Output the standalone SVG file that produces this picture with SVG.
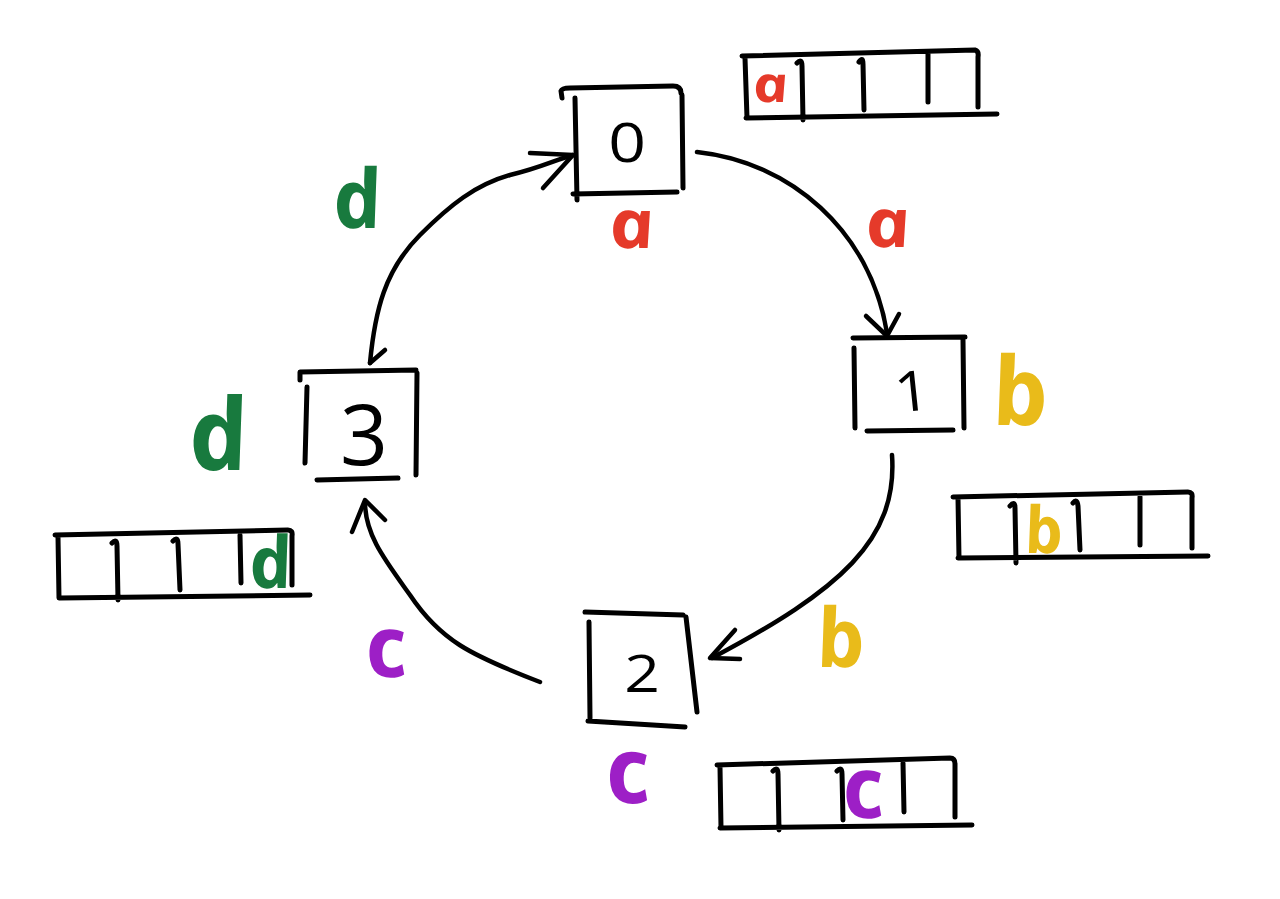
<svg xmlns="http://www.w3.org/2000/svg" width="1280" height="899" viewBox="0 0 1280 899">
<style>
.ln{fill:none;stroke:#000;stroke-width:5;stroke-linecap:round;stroke-linejoin:round}
.cn{fill:none;stroke:#000;stroke-width:4.5;stroke-linecap:round;stroke-linejoin:round}
.ltr{font-family:"Open Sans","DejaVu Sans",sans-serif;font-weight:700;font-style:italic;text-anchor:middle}
.dig{font-family:"Open Sans","DejaVu Sans",sans-serif;font-weight:500;text-anchor:middle;fill:#000}
.red{fill:#e53a2a}.yel{fill:#e9bb1a}.pur{fill:#9d1fc6}.grn{fill:#187a3e}
</style>
<rect width="1280" height="899" fill="#fff"/>

<g id="node0">
<path class="ln" d="M562,98 L561,91 Q562,88 570,88 L673,86 Q681,86 681,93 M682,95 L683,188 M575,98 L577,200 M573,194 L677,192"/>
<text class="dig" font-size="55" transform="translate(627,162) scale(1.2,1)">0</text>
<text class="ltr red" font-size="68" transform="translate(635,248) skewX(10) scale(1.12,1)">a</text>
</g>

<g id="node1">
<path class="ln" d="M853,338 L965,337 M854,348 L855,428 M963,340 L964,428 M867,431 L953,430"/>
<text class="dig" font-size="56" transform="translate(914,411) rotate(-6) scale(1.1,1)">1</text>
<text class="ltr yel" font-size="95" transform="translate(1025,425) skewX(10)">b</text>
</g>

<g id="node2">
<path class="ln" d="M585,612 L683,615 M589,622 L590,718 M686,617 L697,712 M588,721 L685,727"/>
<text class="dig" font-size="52" transform="translate(642,692) scale(1.2,1)">2</text>
<text class="ltr pur" font-size="92" transform="translate(632,803) skewX(10)">c</text>
</g>

<g id="node3">
<path class="ln" d="M300,380 L300,372 L416,370 M307,387 L305,463 M417,373 L416,475 M317,480 L398,478"/>
<text class="dig" font-size="84" transform="translate(364,465)">3</text>
<text class="ltr grn" font-size="100" transform="translate(223,470) skewX(10)">d</text>
</g>

<g id="array0">
<path class="ln" d="M742,56 L975,50 Q979,51 978,57 L978,107 M745,58 L747,118 M746,118 L997,114 M797,63 Q802,58 802,66 L803,120 M859,62 Q863,56 863,64 L864,110 M928,53 L928,102"/>
<text class="ltr red" font-size="50" transform="translate(773,102) skewX(10) scale(1.2,1)">a</text>
</g>

<g id="array1">
<path class="ln" d="M953,497 L1188,492 Q1193,492 1192,498 L1192,548 M958,498 L959,558 M958,558 L1208,556 M1010,506 Q1015,500 1015,508 L1016,563 M1073,503 Q1077,498 1078,506 L1080,550 M1140,497 L1140,545"/>
<text class="ltr yel" font-size="65" transform="translate(1047,553) skewX(10)">b</text>
</g>

<g id="array2">
<path class="ln" d="M717,765 L950,758 Q955,758 955,764 L955,817 M720,767 L721,828 M720,828 L972,825 M773,771 Q778,766 778,774 L779,830 M837,771 Q842,766 842,774 L843,820 M903,763 L904,812"/>
<text class="ltr pur" font-size="86" transform="translate(867,818) skewX(10)">c</text>
</g>

<g id="array3">
<path class="ln" d="M55,535 L288,530 Q293,530 292,536 L292,585 M58,537 L59,598 M60,598 L310,595 M112,543 Q117,538 117,546 L118,600 M173,541 Q178,536 178,544 L180,590 M240,535 L241,583"/>
<text class="ltr grn" font-size="72" transform="translate(274,588) skewX(10)">d</text>
</g>

<g id="connectors">
<path class="cn" d="M697,152 C790,162 870,230 887,333"/>
<path class="cn" d="M866,316 L887,336 L899,314"/>
<path class="cn" d="M892,455 C898,540 840,590 712,658"/>
<path class="cn" d="M735,630 L710,658 L740,659"/>
<path class="cn" d="M540,682 C470,655 440,640 410,595 C385,560 365,535 365,502"/>
<path class="cn" d="M352,532 L365,500 L385,520"/>
<path class="cn" d="M370,363 C375,310 385,270 420,235 C450,205 475,185 510,175 C540,168 555,160 573,155"/>
<path class="cn" d="M370,363 L385,350"/>
<path class="cn" d="M530,153 L573,155 L543,188"/>
</g>

<g id="edge-labels">
<text class="ltr red" font-size="68" transform="translate(891,247) skewX(10) scale(1.12,1)">a</text>
<text class="ltr yel" font-size="82" transform="translate(845,667) skewX(10)">b</text>
<text class="ltr pur" font-size="86" transform="translate(390,677) skewX(10)">c</text>
<text class="ltr grn" font-size="82" transform="translate(361,228) skewX(10)">d</text>
</g>
</svg>
